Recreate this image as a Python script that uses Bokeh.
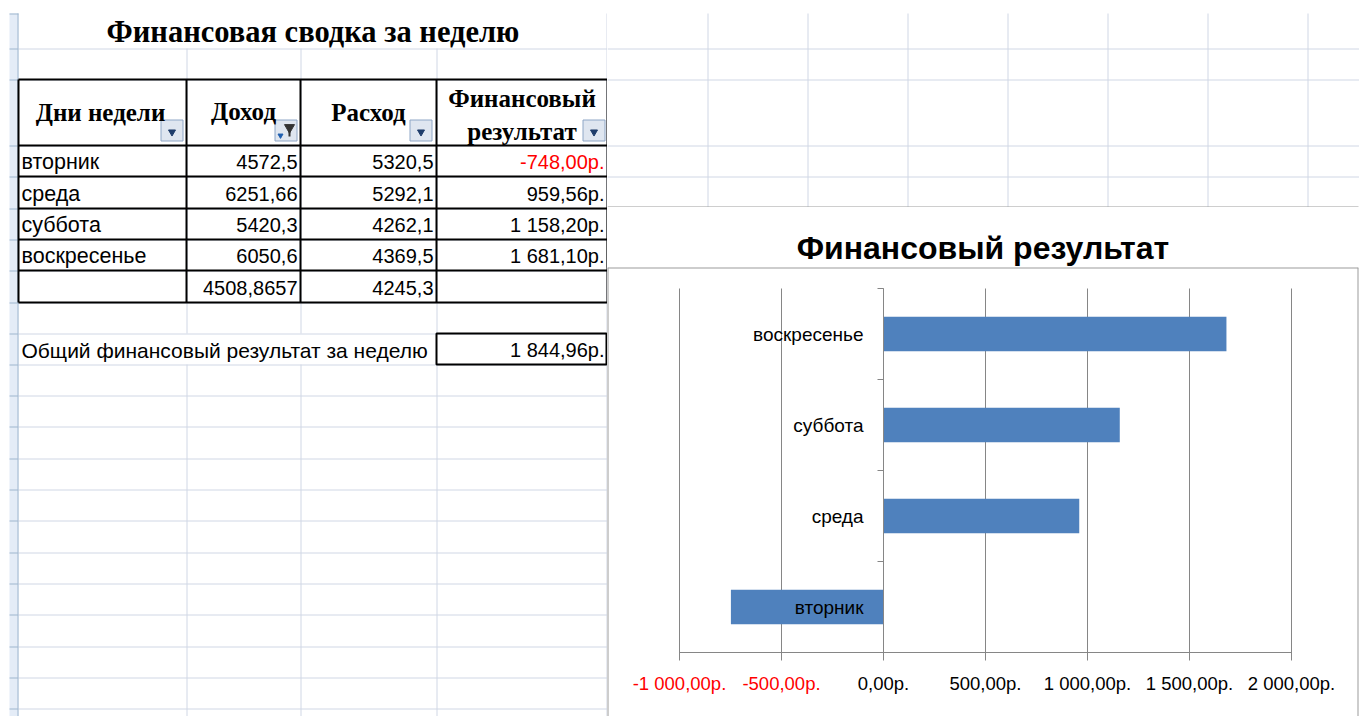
from bokeh.plotting import figure
from bokeh.layouts import row, column
from bokeh.models import Range1d, LinearAxis, FixedTicker, Span
from bokeh.core.properties import value
from bokeh.embed import file_html
from bokeh.resources import INLINE

# ---------------- data ----------------
days = ["вторник", "среда", "суббота", "воскресенье"]
income = [4572.5, 6251.66, 5420.3, 6050.6]
expense = [5320.5, 5292.1, 4262.1, 4369.5]
result = [-748.00, 959.56, 1158.20, 1681.10]
avg_row = [4508.8657, 4245.3]
week_total = 1844.96
headers = ["Дни недели", "Доход", "Расход", "Финансовый результат"]
sheet_title = "Финансовая сводка за неделю"
total_label = "Общий финансовый результат за неделю"
chart_title = "Финансовый результат"
x_ticks = [-1000, -500, 0, 500, 1000, 1500, 2000]


def rub(v):
    s = f"{abs(v):,.2f}".replace(",", " ").replace(".", ",")
    return ("-" if v < 0 else "") + s + "р."


def num(v):
    return repr(v).replace(".", ",")


# ---------------- layout constants (page pixels) ----------------
COLS = [18, 186, 300, 436, 607]
ROWS = [13, 48, 79, 145, 176, 208, 239, 270, 302, 333, 364, 395, 426,
        458, 489, 520, 552, 583, 614, 646, 677, 708]
RIGHT_COLS = [707, 807, 907, 1007, 1107, 1207, 1307]
GRID_C = "#d0d7e5"
BORDER_C = "#9c9c9c"
AX_C = "#868686"
SANS = value("Liberation Sans")
SERIF = value("Liberation Serif")
PAGE_W, PAGE_H = 1359, 716
SPLIT_X, CHART_TOP, TITLE_H = 607, 207, 60
CH_R = 1358                      # chart frame right edge
PA_L, PA_R, PA_T, PA_B = 679, 1291, 288, 652   # plot area


def sheet_fig(w, h, x0, y0):
    return figure(width=w, height=h, x_range=Range1d(x0, x0 + w), y_range=Range1d(y0 + h, y0),
                  output_backend="svg", toolbar_location=None, x_axis_type=None, y_axis_type=None,
                  min_border=0, outline_line_color=None, background_fill_color="white",
                  border_fill_color="white", frame_align=False)


# ---------------- left sheet ----------------
L = sheet_fig(SPLIT_X, PAGE_H, 0, 0)

L.quad(left=[9], right=[18], top=[13], bottom=[PAGE_H], fill_color="#e4ecf7", line_color=None)
L.segment(x0=[9] * len(ROWS), x1=[18] * len(ROWS), y0=[r + 0.5 for r in ROWS],
          y1=[r + 0.5 for r in ROWS], line_color="#9eb6ce", line_width=1)
L.segment(x0=[17.5], x1=[17.5], y0=[13], y1=[PAGE_H], line_color="#9eb6ce", line_width=1)

hy = [r + 0.5 for r in ROWS[1:]]
L.segment(x0=[18] * len(hy), x1=[607] * len(hy), y0=hy, y1=hy, line_color=GRID_C, line_width=1)
vx, vy0, vy1 = [], [], []
for c in COLS[1:4]:
    vx += [c + 0.5, c + 0.5]
    vy0 += [48, 364]
    vy1 += [333, PAGE_H]
vx.append(606.5); vy0.append(13); vy1.append(PAGE_H)
L.segment(x0=vx, x1=vx, y0=vy0, y1=vy1, line_color=GRID_C, line_width=1)
L.segment(x0=[606.5], x1=[606.5], y0=[CHART_TOP], y1=[CHART_TOP + TITLE_H], line_color=BORDER_C, line_width=1)

tb = ROWS[2:9]
L.segment(x0=[18] * len(tb), x1=[607] * len(tb), y0=tb, y1=tb, line_color="black", line_width=2)
L.segment(x0=COLS, x1=COLS, y0=[79] * len(COLS), y1=[302] * len(COLS), line_color="black", line_width=2)
L.quad(left=[436], right=[606], top=[333], bottom=[364], fill_color=None, line_color="black", line_width=2)

bx = [171.5, 285.5, 420.5, 593.5]
L.rect(x=bx, y=[130] * 4, width=22, height=21, fill_color="#dfe6f0", line_color="#8ea6c6", line_width=1)
L.scatter(x=[171.5, 420.5, 593.5], y=[131.5] * 3, marker="inverted_triangle", size=7,
          fill_color="#1f3d6b", line_color="#1f3d6b")
L.scatter(x=[289], y=[127], marker="inverted_triangle", size=10, fill_color="#333333", line_color="#333333")
L.rect(x=[289], y=[133], width=2, height=6, fill_color="#333333", line_color=None)
L.scatter(x=[280], y=[135], marker="inverted_triangle", size=5, fill_color="#1f5fb0", line_color="#1f5fb0")

L.text(x=[312.5], y=[31], text=[sheet_title], text_font=SERIF, text_font_style="bold",
       text_font_size="30.5px", text_align="center", text_baseline="middle", text_color="black")

centers = [(COLS[i] + COLS[i + 1]) / 2 for i in range(4)]
hx = [centers[0] - 2] + centers[1:3] + [centers[3], centers[3]]
h4 = headers[3].split(" ")
L.text(x=hx, y=[112, 111, 112, 98, 131], text=headers[:3] + h4, text_font=SERIF,
       text_font_style="bold", text_font_size="25px", text_align="center", text_baseline="middle",
       text_color="black")

row_mid = [(ROWS[i] + ROWS[i + 1]) / 2 + 1 for i in range(3, 8)]
L.text(x=[21] * 4, y=row_mid[:4], text=days, text_font=SANS, text_font_size="21.5px",
       text_baseline="middle", text_color="black")
L.text(x=[297] * 5, y=row_mid, text=[num(v) for v in income] + [num(avg_row[0])], text_font=SANS,
       text_font_size="20px", text_align="right", text_baseline="middle", text_color="black")
L.text(x=[433] * 5, y=row_mid, text=[num(v) for v in expense] + [num(avg_row[1])], text_font=SANS,
       text_font_size="20px", text_align="right", text_baseline="middle", text_color="black")
L.text(x=[604] * 4, y=row_mid[:4], text=[rub(v) for v in result],
       text_color=["#ff0000" if v < 0 else "black" for v in result], text_font=SANS,
       text_font_size="20px", text_align="right", text_baseline="middle")
tot_y = (ROWS[9] + ROWS[10]) / 2 + 1
L.text(x=[21], y=[tot_y], text=[total_label], text_font=SANS, text_font_size="21px",
       text_baseline="middle", text_color="black")
L.text(x=[604], y=[tot_y], text=[rub(week_total)], text_font=SANS, text_font_size="20px",
       text_align="right", text_baseline="middle", text_color="black")

# ---------------- top-right sheet ----------------
T = sheet_fig(PAGE_W - SPLIT_X, CHART_TOP, SPLIT_X, 0)
rx = [c + 0.5 for c in RIGHT_COLS]
T.segment(x0=rx, x1=rx, y0=[13] * len(rx), y1=[CHART_TOP] * len(rx), line_color=GRID_C, line_width=1)
ry = [r + 0.5 for r in ROWS[1:5]]
T.segment(x0=[SPLIT_X] * len(ry), x1=[PAGE_W] * len(ry), y0=ry, y1=ry, line_color=GRID_C, line_width=1)
T.segment(x0=[SPLIT_X], x1=[CH_R], y0=[CHART_TOP - 0.5], y1=[CHART_TOP - 0.5], line_color=BORDER_C, line_width=1)

# ---------------- chart ----------------
n = len(days)
idx = list(range(n))
xs = (PA_R - PA_L) / (x_ticks[-1] - x_ticks[0])
ys = (PA_B - PA_T) / n
fr_top = CHART_TOP + TITLE_H
x_range = Range1d(x_ticks[0] - (PA_L - SPLIT_X) / xs, x_ticks[-1] + (CH_R - PA_R) / xs)
y_range = Range1d(-0.5 - (PAGE_H - PA_B) / ys, n - 0.5 + (PA_T - fr_top) / ys)

C = figure(width=PAGE_W - SPLIT_X, height=PAGE_H - CHART_TOP, x_range=x_range, y_range=y_range,
           output_backend="svg", toolbar_location=None, x_axis_type=None, y_axis_type=None,
           min_border_left=0, min_border_right=PAGE_W - CH_R, min_border_top=TITLE_H, min_border_bottom=0,
           outline_line_color=None, background_fill_color="white", border_fill_color="white",
           frame_align=False, title=chart_title)
C.title.align = "center"
C.title.text_font = "Liberation Sans"
C.title.text_font_size = "32px"
C.title.text_font_style = "bold"
C.title.text_color = "black"
C.title.standoff = 3

# chart box borders along the frame edges
C.add_layout(Span(location=y_range.end, dimension="width", line_color=BORDER_C, line_width=2))
C.add_layout(Span(location=x_range.start, dimension="height", line_color=BORDER_C, line_width=2))
C.add_layout(Span(location=x_range.end, dimension="height", line_color=BORDER_C, line_width=2))

# value axes (drawn beneath bars); long inner ticks act as vertical gridlines
for ticks, color in (([t for t in x_ticks if t < 0], "#ff0000"), ([t for t in x_ticks if t >= 0], "black")):
    ax = LinearAxis(ticker=FixedTicker(ticks=ticks, minor_ticks=[]), fixed_location=-0.5,
                    bounds=(x_ticks[0], x_ticks[-1]), level="underlay",
                    major_label_overrides={t: rub(t) for t in ticks},
                    axis_line_color=AX_C, major_tick_line_color=AX_C, major_tick_out=8,
                    major_tick_in=PA_B - PA_T, minor_tick_line_color=None, major_label_standoff=12,
                    major_label_text_font="Liberation Sans", major_label_text_font_size="18.5px",
                    major_label_text_color=color)
    C.add_layout(ax, "below")

C.hbar(y=idx, left=0, right=result, height=0.38, fill_color="#4f81bd", line_color=None)

yax = LinearAxis(ticker=FixedTicker(ticks=idx, minor_ticks=[i - 0.5 for i in range(n + 1)]),
                 fixed_location=0, bounds=(-0.5, n - 0.5),
                 major_label_overrides={i: d for i, d in enumerate(days)},
                 axis_line_color=AX_C, major_tick_line_color=None, major_tick_out=0, major_tick_in=0,
                 minor_tick_line_color=AX_C, minor_tick_out=6, minor_tick_in=0,
                 major_label_standoff=14, major_label_text_font="Liberation Sans",
                 major_label_text_font_size="19px", major_label_text_color="black")
C.add_layout(yax, "left")

layout = row(L, column(T, C, spacing=0), spacing=0)

with open("out.html", "w") as fh:
    fh.write(file_html(layout, INLINE))
